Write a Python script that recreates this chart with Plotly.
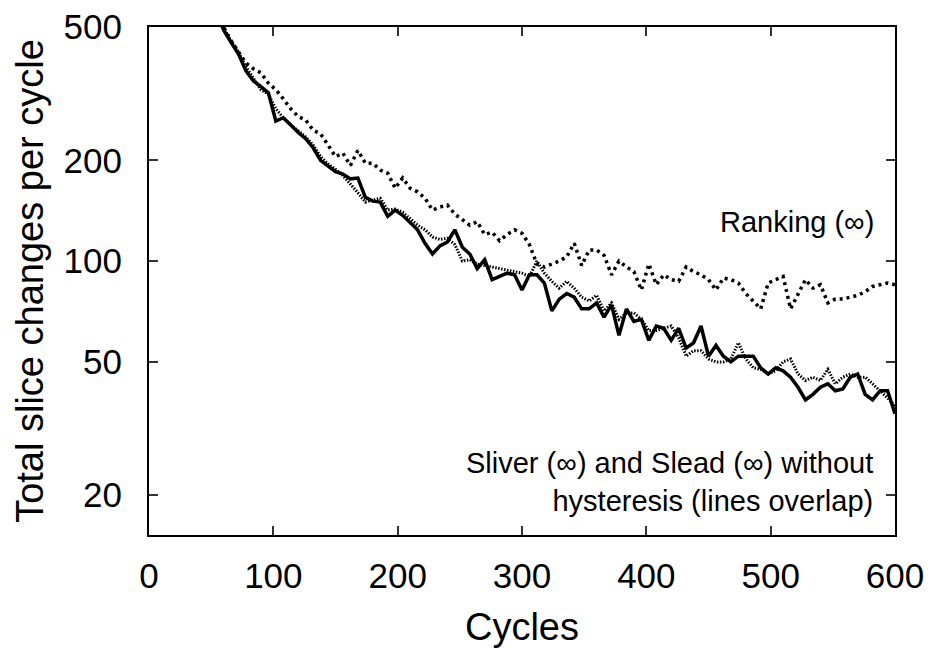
import plotly.graph_objects as go

# Sampling points (cycles)
cycles = list(range(48, 601, 6))

# Total slice changes per cycle, Sliver (no hysteresis)
sliver = [640, 560, 490, 450, 415, 370, 345, 332, 318, 262,
          268, 255, 242, 232, 218, 200, 193, 185, 182, 176,
          177, 155, 151, 150, 136, 142, 137, 130, 124, 113,
          105, 111, 114, 124, 110, 105, 95, 101, 88, 90,
          92, 91, 82, 91, 91, 86, 71, 77, 80, 78,
          72, 72, 75, 68, 74, 60, 72, 66, 67, 58,
          64, 63, 58, 63, 55, 57, 64, 52, 56, 52,
          50, 52, 52, 52, 48, 46, 48, 47, 45, 42,
          38.5, 40, 42, 43, 41, 41.5, 45, 46, 40, 38.5,
          41, 41, 35]

# Slead (no hysteresis)
slead = [640, 560, 495, 455, 420, 380, 352, 325, 315, 285,
         268, 255, 245, 235, 222, 205, 195, 188, 180, 170,
         160, 150, 152, 154, 142, 143, 140, 134, 128, 124,
         118, 116, 117, 112, 100, 101, 98, 97, 96, 95,
         94, 93, 92, 90, 100, 92, 87, 83, 87, 83,
         78, 76, 79, 71, 75, 67, 70, 70, 67, 62,
         62, 63, 64, 59, 52, 54, 54, 51, 50, 50,
         51, 57, 51, 48, 47.5, 46, 47, 50, 51, 46,
         44, 45, 44, 47.5, 43, 45, 46, 45, 45, 43,
         41, 39, 37]

# Ranking
ranking = [650, 570, 500, 455, 420, 390, 375, 365, 340, 325,
           305, 285, 270, 264, 246, 240, 222, 205, 210, 193,
           214, 196, 196, 187, 183, 165, 177, 165, 161, 154,
           142, 145, 147, 138, 133, 128, 131, 120, 122, 115,
           120, 124, 121, 112, 98, 96, 98, 100, 103, 113,
           97, 108, 108, 104, 91, 100, 96, 93, 82, 98,
           85, 91, 88, 87, 96, 93, 91, 88, 82, 89,
           88, 86, 80, 76, 72, 86, 88, 90, 72, 80,
           88, 83, 85, 75, 77, 77, 78, 79, 81, 84,
           85, 86, 85]

x_ticks = [0, 100, 200, 300, 400, 500, 600]
y_ticks = [20, 50, 100, 200, 500]

FONT = "Liberation Sans, Arial, sans-serif"
TICK_SIZE = 35
TITLE_SIZE = 38
LABEL_SIZE = 29

fig = go.Figure()
fig.add_trace(go.Scatter(x=cycles, y=ranking, mode="lines",
                         line=dict(color="black", width=3.5, dash="3px,4px"),
                         name="Ranking"))
fig.add_trace(go.Scatter(x=cycles, y=slead, mode="lines",
                         line=dict(color="black", width=3, dash="1.5px,1.5px"),
                         name="Slead"))
fig.add_trace(go.Scatter(x=cycles, y=sliver, mode="lines",
                         line=dict(color="black", width=3.5),
                         name="Sliver"))

label_font = dict(size=LABEL_SIZE, color="black", family=FONT)
fig.add_annotation(x=0.974, y=0.616, xref="paper", yref="paper", yanchor="middle",
                   text="Ranking (∞)", showarrow=False, xanchor="right",
                   font=label_font)
fig.add_annotation(x=0.973, y=0.105, xref="paper", yref="paper", yanchor="middle",
                   text="Sliver (∞) and Slead (∞) without<br>hysteresis (lines overlap)",
                   showarrow=False, xanchor="right", align="right", font=label_font)

axis_common = dict(showline=True, linecolor="black", linewidth=2, mirror="ticks",
                   ticks="inside", ticklen=9, tickwidth=1.5, tickcolor="#333",
                   showgrid=False, zeroline=False, automargin=False,
                   tickfont=dict(size=TICK_SIZE, color="black", family=FONT))

fig.update_xaxes(range=[0, 600], tickvals=x_ticks, ticklabelstandoff=9,
                 title=dict(text="Cycles", standoff=20,
                            font=dict(size=TITLE_SIZE, color="black", family=FONT)),
                 **axis_common)
fig.update_yaxes(type="log", range=[1.182, 2.699], tickvals=y_ticks,
                 ticktext=[str(v) for v in y_ticks], ticklabelstandoff=18,
                 title=dict(text="Total slice changes per cycle", standoff=8,
                            font=dict(size=TITLE_SIZE, color="black", family=FONT)),
                 **axis_common)

fig.update_layout(width=929, height=648, showlegend=False,
                  plot_bgcolor="white", paper_bgcolor="white",
                  margin=dict(l=149, r=34, t=27, b=113),
                  font=dict(family=FONT, color="black"))

fig.write_html("out.html")
